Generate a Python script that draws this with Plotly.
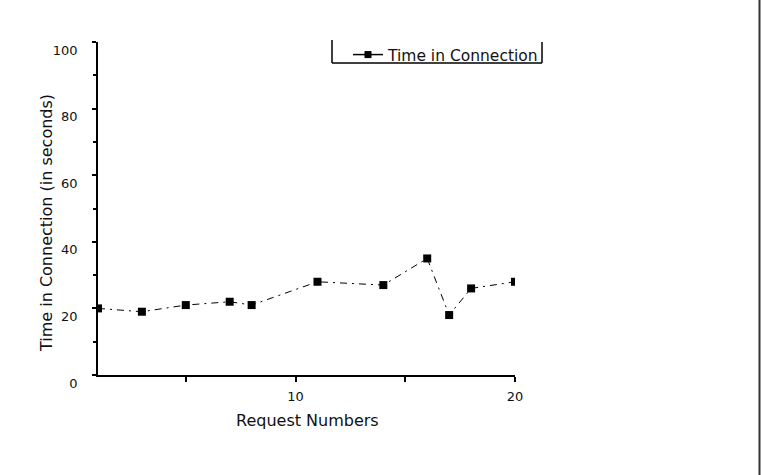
import plotly.graph_objects as go

# Data
request_numbers = [1, 3, 5, 7, 8, 11, 14, 16, 17, 18, 20]
time_in_connection = [20, 19, 21, 22, 21, 28, 27, 35, 18, 26, 28]
series_name = "Time in Connection"
x_tick_vals = [5, 10, 15, 20]
x_tick_text = ["", "10", "", "20"]
y_tick_vals = [0, 20, 40, 60, 80, 100]

FONT = "DejaVu Sans"
W, H = 761, 475
L, R, T, B = 98, 246, 42, 100
pw = W - L - R
ph = H - T - B


def px_x(px):
    return (px - L) / pw


def px_y(py):
    return (H - B - py) / ph


fig = go.Figure()
fig.add_trace(go.Scatter(
    x=request_numbers, y=time_in_connection, mode="lines+markers",
    line=dict(color="black", width=1, dash="7px,5px,2px,5px"),
    marker=dict(symbol="square", size=8, color="black"),
    showlegend=False, cliponaxis=True,
))
# legend entry (solid line with square marker, as in the reference legend)
fig.add_trace(go.Scatter(
    x=[None], y=[None], mode="lines+markers", name=series_name,
    line=dict(color="black", width=1.5),
    marker=dict(symbol="square", size=7, color="black"),
))

fig.update_layout(
    width=W, height=H,
    margin=dict(l=L, r=R, t=T, b=B),
    paper_bgcolor="white", plot_bgcolor="white",
    font=dict(family=FONT, color="#111", size=13),
    legend=dict(x=px_x(348), y=px_y(38), xanchor="left", yanchor="top",
                bgcolor="rgba(0,0,0,0)", borderwidth=0,
                font=dict(size=15.5, family=FONT, color="#111")),
    xaxis=dict(range=[1, 20], tickvals=x_tick_vals, ticktext=x_tick_text,
               showgrid=False, zeroline=False, showline=True,
               linecolor="black", linewidth=1.5,
               ticks="outside", ticklen=5, tickwidth=1.5, tickcolor="black",
               ticklabelstandoff=4,
               tickfont=dict(size=13, family=FONT, color="#111")),
    yaxis=dict(range=[0, 100], tickvals=y_tick_vals,
               showgrid=False, zeroline=False, showline=True,
               linecolor="black", linewidth=1.5,
               ticks="outside", ticklen=4, tickwidth=1.5, tickcolor="black",
               minor=dict(tickvals=[10, 30, 50, 70, 90], ticks="outside",
                          ticklen=3, tickwidth=1.5, tickcolor="black"),
               ticklabelstandoff=12, ticklabelshift=8,
               tickfont=dict(size=13, family=FONT, color="#111")),
    annotations=[
        dict(text="Request Numbers", xref="paper", yref="paper",
             x=px_x(307.5), y=px_y(420), xanchor="center", yanchor="middle",
             showarrow=False, font=dict(size=16, family=FONT, color="#111")),
        dict(text="Time in Connection (in seconds)", xref="paper", yref="paper",
             x=px_x(46), y=px_y(223), xanchor="center", yanchor="middle",
             textangle=-90, showarrow=False,
             font=dict(size=16, family=FONT, color="#111")),
    ],
    shapes=[
        # legend box (left, bottom, right sides)
        dict(type="line", xref="paper", yref="paper", x0=px_x(332), x1=px_x(332),
             y0=px_y(40), y1=px_y(63), line=dict(color="black", width=1.5)),
        dict(type="line", xref="paper", yref="paper", x0=px_x(332), x1=px_x(542),
             y0=px_y(63), y1=px_y(63), line=dict(color="black", width=1.5)),
        dict(type="line", xref="paper", yref="paper", x0=px_x(542), x1=px_x(542),
             y0=px_y(42), y1=px_y(63), line=dict(color="black", width=1.5)),
        # page border at right edge
        dict(type="line", xref="paper", yref="paper", x0=px_x(759.5), x1=px_x(759.5),
             y0=px_y(-5), y1=px_y(480), line=dict(color="#333", width=2)),
    ],
)

fig.write_html("out.html")
